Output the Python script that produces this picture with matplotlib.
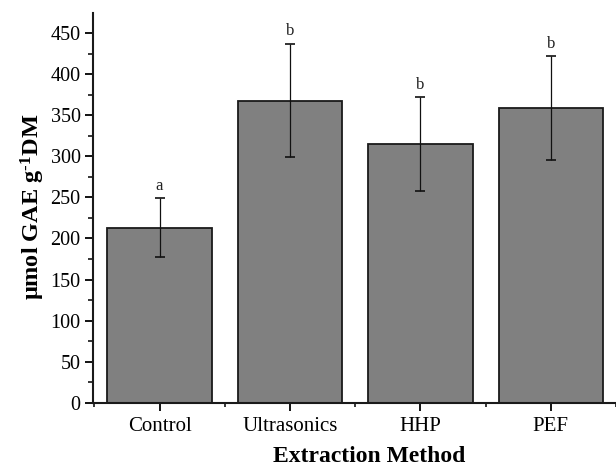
import matplotlib
matplotlib.use("Agg")
import matplotlib.pyplot as plt
import numpy as np

categories = ["Control", "Ultrasonics", "HHP", "PEF"]
means = [213, 368, 315, 359]
errors = [36, 69, 57, 63]
letters = ["a", "b", "b", "b"]
yticks = [0, 50, 100, 150, 200, 250, 300, 350, 400, 450]

plt.rcParams['font.family'] = ['Liberation Serif', 'DejaVu Serif']
plt.rcParams['mathtext.fontset'] = 'custom'
plt.rcParams['mathtext.rm'] = 'Liberation Serif:bold'
plt.rcParams['mathtext.bf'] = 'Liberation Serif:bold'
plt.rcParams['mathtext.it'] = 'Liberation Serif:bold'

fig = plt.figure(figsize=(6.16, 4.68), dpi=100)
ax = fig.add_axes([93/616, 1 - 402.7/468, 1 - 93/616, (402.7 - 12.7)/468])

x = np.arange(len(categories))
ax.bar(x, means, width=0.8, color='#808080', edgecolor='#1a1a1a', linewidth=1.3, zorder=2)
ax.errorbar(x, means, yerr=errors, fmt='none', ecolor='#111111', elinewidth=0.9,
            capsize=3.5, capthick=1.2, zorder=3)
for xi, m, e, lab in zip(x, means, errors, letters):
    ax.text(xi, m + e + 10.5, lab, ha='center', va='baseline', fontsize=12, color='#222222')

ax.set_xlim(-0.51, 3.5)
ax.set_ylim(0, 475)
ax.set_yticks(yticks)
ax.set_yticks(np.arange(25, 475, 50), minor=True)
ax.set_xticks(x)
ax.set_xticklabels(categories, fontsize=15)
ax.set_xticks([-0.5, 0.5, 1.5, 2.5, 3.5], minor=True)
ax.tick_params(axis='y', which='major', labelsize=14.5, length=6, width=1.3, direction='out', pad=3)
ax.tick_params(axis='y', which='minor', length=3.5, width=1.1, direction='out')
ax.tick_params(axis='x', which='major', length=6, width=1.3, direction='out', pad=4)
ax.tick_params(axis='x', which='minor', length=3, width=1.1, direction='out')

for s in ['top', 'right']:
    ax.spines[s].set_visible(False)
for s in ['left', 'bottom']:
    ax.spines[s].set_linewidth(1.5)
    ax.spines[s].set_color('#1a1a1a')

fig.text(33/616, 1 - 206.5/468, 'μmol GAE g$^{\\text{-1}}$DM', rotation=90,
         ha='center', va='center', fontsize=17.5, fontweight='bold')
fig.text(368.8/616, 1 - 462/468, 'Extraction Method', ha='center', va='baseline',
         fontsize=17, fontweight='bold')

fig.savefig('out.png', dpi=100)
